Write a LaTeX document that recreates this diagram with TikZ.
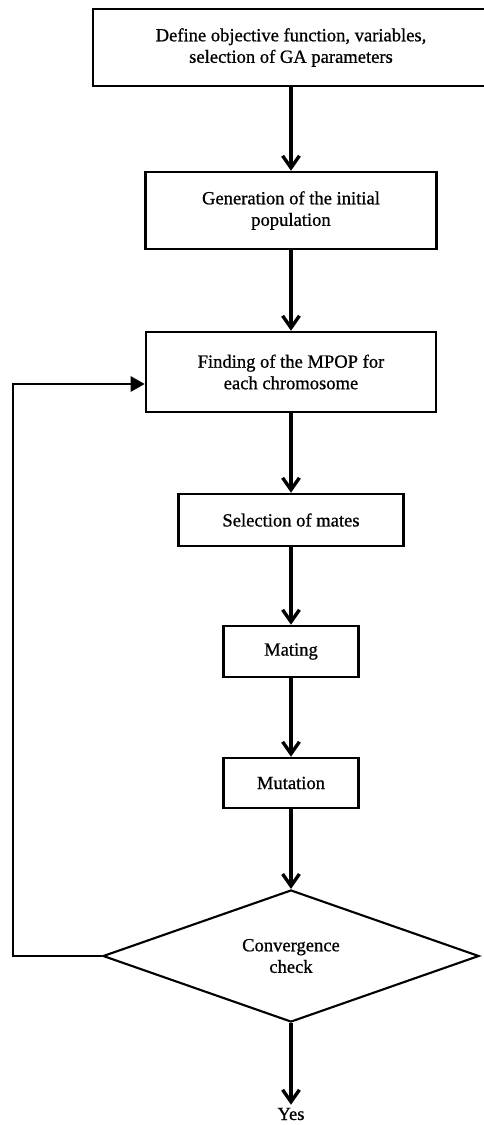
\documentclass[tikz,border=0pt]{standalone}
\usepackage{fontspec}
\setmainfont{Liberation Serif}
\newfontfamily\chartfont[FakeBold=0.8]{Liberation Serif}
\usepackage{tikz}
\usetikzlibrary{arrows.meta,shapes.geometric,positioning,calc}

\begin{document}
\begin{tikzpicture}[x=0.025cm, y=-0.025cm,
    procbox/.style={draw, line width=1.8pt, align=center, inner sep=2pt,
        font=\chartfont\fontsize{13.2pt}{15.3pt}\selectfont},
    checkbox/.style={draw, diamond, line width=1.5pt, align=center, inner sep=0pt,
        font=\chartfont\fontsize{13.2pt}{15.3pt}\selectfont},
    flow/.style={line width=2.4pt, -{Straight Barb[length=0.3cm, width=0.42cm]}},
    feedback/.style={line width=1.6pt, -{Triangle[length=0.35cm, width=0.38cm]}}]
    \path[use as bounding box, clip] (0, 0) rectangle (484, 1125);

    % Steps of the algorithm
    \node[procbox, minimum width=9.9cm, minimum height=1.925cm] (define) at (291, 47.5)
        {Define objective function, variables,\\ selection of GA parameters};
    \node[procbox, minimum width=7.275cm, minimum height=1.925cm] (init) at (291, 210.5)
        {Generation of the initial\\ population};
    \node[procbox, minimum width=7.25cm, minimum height=2cm] (mpop) at (291, 372)
        {Finding of the MPOP for\\ each chromosome};
    \node[procbox, minimum width=5.625cm, minimum height=1.3cm] (select) at (291, 520)
        {Selection of mates};
    \node[procbox, minimum width=3.375cm, minimum height=1.275cm] (mating) at (291, 651.5)
        {Mating};
    \node[procbox, minimum width=3.375cm, minimum height=1.25cm] (mutation) at (291, 783)
        {Mutation};

    % Convergence check
    \node[checkbox, minimum width=9.4cm, minimum height=3.3cm] (check) at (291, 956)
        {Convergence\\ check};
    \node[font=\chartfont\fontsize{13.2pt}{15.3pt}\selectfont, inner sep=2pt] (yes) at (291, 1114) {Yes};

    % Arrows down the chain
    \draw[flow] (define) -- (init);
    \draw[flow] (init) -- (mpop);
    \draw[flow] (mpop) -- (select);
    \draw[flow] (select) -- (mating);
    \draw[flow] (mating) -- (mutation);
    \draw[flow] (mutation) -- (check);
    \draw[flow] (check) -- (yes);

    % Loop back
    \coordinate (loopx) at (13, 0);
    \draw[feedback] (check.west) -- (check.west -| loopx) |- ($(mpop.west)+(0, 12)$);
\end{tikzpicture}
\end{document}
